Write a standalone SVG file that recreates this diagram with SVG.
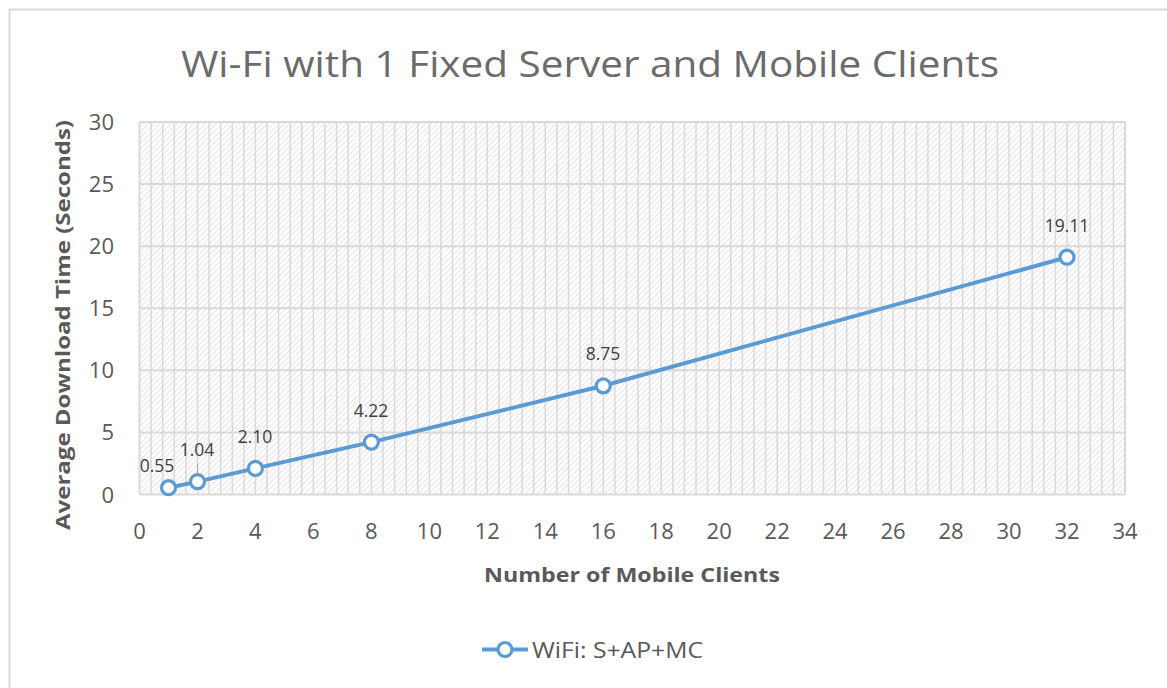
<svg xmlns="http://www.w3.org/2000/svg" width="1167" height="688" viewBox="0 0 1167 688">
<style>
.t{font-family:"Open Sans","Liberation Sans",sans-serif;fill:#595959}
.tick{font-size:22px}
.dl{font-size:17.5px;fill:#404040}
.grid{stroke:#d9d9d9;fill:none}
.pt{fill:#fff;stroke:#5b9bd5;stroke-width:3.2}
</style>
<defs>
<pattern id="hatch" width="4" height="4" patternUnits="userSpaceOnUse" patternTransform="rotate(45)">
<line x1="0" y1="0" x2="0" y2="4" stroke="#d6d6d6" stroke-width="1.3"/>
</pattern>
</defs>
<rect width="1167" height="688" fill="#fff"/>
<path d="M9.5,688 V9.5 H1167" fill="none" stroke="#d9d9d9" stroke-width="2"/>
<text id="title" class="t" x="590" y="77" text-anchor="middle" font-size="37" textLength="818" lengthAdjust="spacingAndGlyphs" style="fill:#6b6b6b">Wi-Fi with 1 Fixed Server and Mobile Clients</text>
<g id="plot">
<rect x="139.5" y="122" width="985.5" height="372.5" fill="url(#hatch)"/>
<g class="grid" stroke-width="1.5">
<path d="M151.1,122V494.5M162.7,122V494.5M174.3,122V494.5M185.9,122V494.5M197.5,122V494.5M209.1,122V494.5M220.7,122V494.5M232.3,122V494.5M243.9,122V494.5M255.4,122V494.5M267,122V494.5M278.6,122V494.5M290.2,122V494.5M301.8,122V494.5M313.4,122V494.5M325,122V494.5M336.6,122V494.5M348.2,122V494.5M359.8,122V494.5M371.4,122V494.5M383,122V494.5M394.6,122V494.5M406.2,122V494.5M417.8,122V494.5M429.4,122V494.5M440.9,122V494.5M452.5,122V494.5M464.1,122V494.5M475.7,122V494.5M487.3,122V494.5M498.9,122V494.5M510.5,122V494.5M522.1,122V494.5M533.7,122V494.5M545.3,122V494.5M556.9,122V494.5M568.5,122V494.5M580.1,122V494.5M591.7,122V494.5M603.3,122V494.5M614.9,122V494.5M626.4,122V494.5M638,122V494.5M649.6,122V494.5M661.2,122V494.5M672.8,122V494.5M684.4,122V494.5M696,122V494.5M707.6,122V494.5M719.2,122V494.5M730.8,122V494.5M742.4,122V494.5M754,122V494.5M765.6,122V494.5M777.2,122V494.5M788.8,122V494.5M800.4,122V494.5M811.9,122V494.5M823.5,122V494.5M835.1,122V494.5M846.7,122V494.5M858.3,122V494.5M869.9,122V494.5M881.5,122V494.5M893.1,122V494.5M904.7,122V494.5M916.3,122V494.5M927.9,122V494.5M939.5,122V494.5M951.1,122V494.5M962.7,122V494.5M974.3,122V494.5M985.9,122V494.5M997.4,122V494.5M1009,122V494.5M1020.6,122V494.5M1032.2,122V494.5M1043.8,122V494.5M1055.4,122V494.5M1067,122V494.5M1078.6,122V494.5M1090.2,122V494.5M1101.8,122V494.5M1113.4,122V494.5"/>
</g>
<g class="grid" stroke-width="2">
<path d="M139.5,122H1125M139.5,184.1H1125M139.5,246.2H1125M139.5,308.2H1125M139.5,370.3H1125M139.5,432.4H1125M139.5,494.5H1125M139.5,122V494.5M1125,122V494.5"/>
</g>
</g>
<g id="yaxis" class="t tick" text-anchor="end">
<text x="114" y="130">30</text>
<text x="114" y="192">25</text>
<text x="114" y="254">20</text>
<text x="114" y="316">15</text>
<text x="114" y="378">10</text>
<text x="114" y="440">5</text>
<text x="114" y="503">0</text>
</g>
<g id="xaxis" class="t tick" text-anchor="middle">
<text x="139.5" y="539">0</text>
<text x="197.5" y="539">2</text>
<text x="255.4" y="539">4</text>
<text x="313.4" y="539">6</text>
<text x="371.4" y="539">8</text>
<text x="429.4" y="539">10</text>
<text x="487.3" y="539">12</text>
<text x="545.3" y="539">14</text>
<text x="603.3" y="539">16</text>
<text x="661.2" y="539">18</text>
<text x="719.2" y="539">20</text>
<text x="777.2" y="539">22</text>
<text x="835.1" y="539">24</text>
<text x="893.1" y="539">26</text>
<text x="951.1" y="539">28</text>
<text x="1009" y="539">30</text>
<text x="1067" y="539">32</text>
<text x="1125" y="539">34</text>
</g>
<text id="ytitle" class="t" x="0" y="0" transform="translate(70,325) rotate(-90)" text-anchor="middle" font-size="20" font-weight="bold" textLength="410" lengthAdjust="spacingAndGlyphs">Average Download Time (Seconds)</text>
<text id="xtitle" class="t" x="632" y="582" text-anchor="middle" font-size="20" font-weight="bold" textLength="296" lengthAdjust="spacingAndGlyphs">Number of Mobile Clients</text>
<g id="connectors">
<polyline points="168.5,487.7 197.5,481.6 255.4,468.4 371.4,442.1 603.3,385.8 1067,257.2" fill="none" stroke="#5b9bd5" stroke-width="4" stroke-linejoin="round"/>
<line x1="197.5" y1="463" x2="197.5" y2="479" stroke="#a6a6a6" stroke-width="1"/>
</g>
<g id="series">
<circle class="pt" cx="168.5" cy="487.7" r="7"/>
<circle class="pt" cx="197.5" cy="481.6" r="7"/>
<circle class="pt" cx="255.4" cy="468.4" r="7"/>
<circle class="pt" cx="371.4" cy="442.1" r="7"/>
<circle class="pt" cx="603.3" cy="385.8" r="7"/>
<circle class="pt" cx="1067" cy="257.2" r="7"/>
</g>
<g id="labels" class="t dl" text-anchor="middle">
<text x="157" y="472">0.55</text>
<text x="197" y="456">1.04</text>
<text x="255" y="443">2.10</text>
<text x="371" y="417">4.22</text>
<text x="603" y="360">8.75</text>
<text x="1067" y="232">19.11</text>
</g>
<g id="legend">
<line x1="482" y1="649.5" x2="528" y2="649.5" stroke="#5b9bd5" stroke-width="4"/>
<circle class="pt" cx="505" cy="649.5" r="7"/>
<text class="t" x="532" y="658" font-size="22" textLength="171" lengthAdjust="spacingAndGlyphs">WiFi: S+AP+MC</text>
</g>
</svg>
